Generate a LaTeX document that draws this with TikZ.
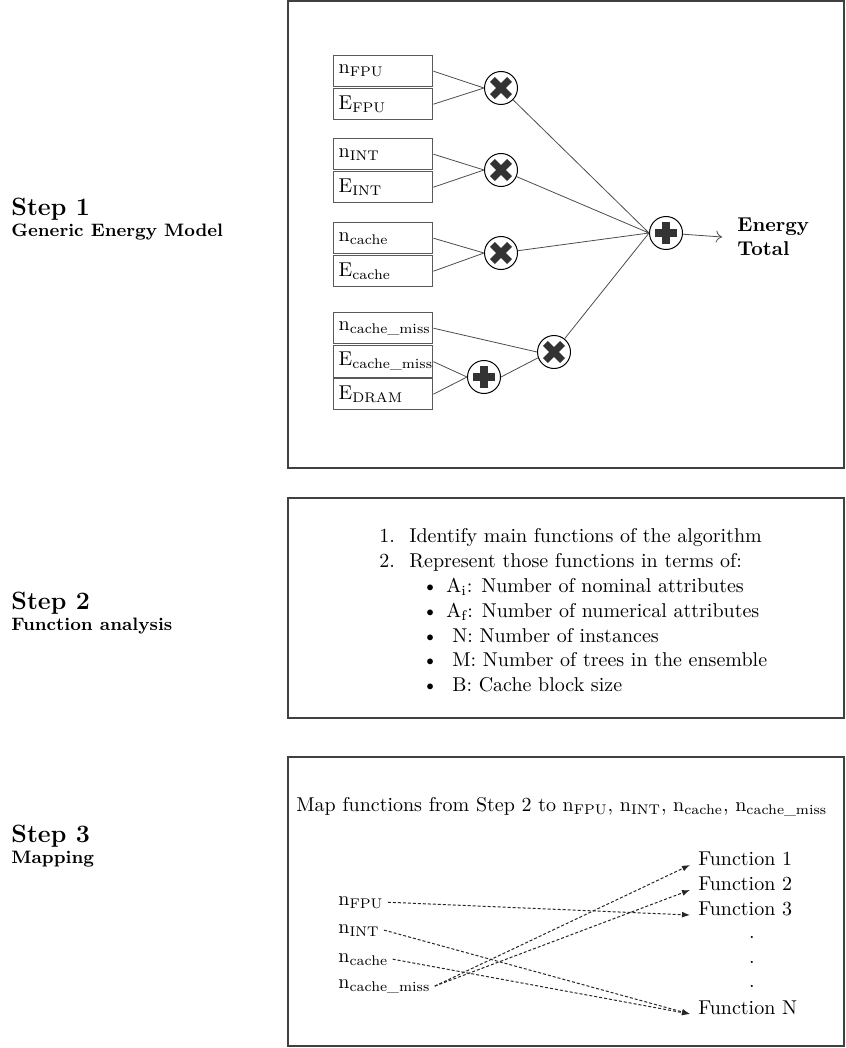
\documentclass[tikz,border=0pt]{standalone}
\usepackage{fontspec}
\usetikzlibrary{arrows.meta}
\newcommand\qsub[2]{#1\textsubscript{#2}}

\begin{document}
\begin{tikzpicture}[x=.5pt,y=-.5pt,
	panel/.style={draw=black!75,line width=1pt},
	inbox/.style={draw=black!65,line width=.7pt,anchor=north west,minimum height=15.5pt,text width=44.5pt,inner xsep=2.5pt,align=left},
	opnode/.style={draw,circle,line width=.5pt,inner sep=0,minimum size=16.5pt},
	mult/.style={opnode,path picture={\draw[black!80,line width=3.4pt]
		([shift={(-4.3pt,-4.3pt)}]path picture bounding box.center)--([shift={(4.3pt,4.3pt)}]path picture bounding box.center)
		([shift={(-4.3pt,4.3pt)}]path picture bounding box.center)--([shift={(4.3pt,-4.3pt)}]path picture bounding box.center);}},
	plus/.style={opnode,path picture={\draw[black!80,line width=4pt]
		([xshift=-5.5pt]path picture bounding box.center)--([xshift=5.5pt]path picture bounding box.center)
		([yshift=-5.5pt]path picture bounding box.center)--([yshift=5.5pt]path picture bounding box.center);}},
	link/.style={draw=black!70,line width=.4pt},
	maplink/.style={black!85,line width=.5pt,dash pattern=on 1.5pt off 1pt,-{Latex[length=4pt,width=3pt]}},
	steplabel/.style={anchor=base west,inner sep=0,font=\fontsize{12.5}{15}\selectfont\bfseries},
	stepsub/.style={anchor=base west,inner sep=0,font=\fontsize{9}{11}\selectfont\bfseries},
	txt/.style={anchor=base west,inner sep=0}]
\useasboundingbox (0,0) rectangle (845,1048);
% step labels
\node[steplabel] (s1) at (11,216) {Step 1};
\node[stepsub] (s1sub) at (11,236) {Generic Energy Model};
\node[steplabel] (s2) at (11,609) {Step 2};
\node[stepsub] (s2sub) at (11,630) {Function analysis};
\node[steplabel] (s3) at (11,842) {Step 3};
\node[stepsub] (s3sub) at (11,863) {Mapping};
% panels
\draw[panel] (288,1) rectangle (844,468);
\draw[panel] (288,498) rectangle (844,718);
\draw[panel] (288,757) rectangle (844,1046);
% step 1: generic energy model
\node[inbox] (nfpu) at (333,55) {\qsub{n}{FPU}};
\node[inbox] (efpu) at (333,88) {\qsub{E}{FPU}};
\node[inbox] (nint) at (333,138) {\qsub{n}{INT}};
\node[inbox] (eint) at (333,171) {\qsub{E}{INT}};
\node[inbox] (ncache) at (333,222) {\qsub{n}{cache}};
\node[inbox] (ecache) at (333,255) {\qsub{E}{cache}};
\node[inbox] (nmiss) at (333,312) {\qsub{n}{cache\_miss}};
\node[inbox] (emiss) at (333,345) {\qsub{E}{cache\_miss}};
\node[inbox] (edram) at (333,378) {\qsub{E}{DRAM}};
\node[mult] (m1) at (501,88) {};
\node[mult] (m2) at (501,170) {};
\node[mult] (m3) at (501,253) {};
\node[plus] (p1) at (484,377) {};
\node[mult] (m4) at (554,352) {};
\node[plus] (total) at (666,233) {};
\node[anchor=west,inner xsep=7.5pt,align=left,font=\bfseries] (etotal) at (722,237) {Energy\\Total};
\draw[link] (nfpu.east)--(m1.west) (efpu.east)--(m1.west);
\draw[link] (nint.east)--(m2.west) (eint.east)--(m2.west);
\draw[link] (ncache.east)--(m3.west) (ecache.east)--(m3.west);
\draw[link] (emiss.east)--(p1.west) (edram.east)--(p1.west);
\draw[link] (nmiss.east)--(m4.west) (p1.east)--(m4.200);
\draw[link] (m1)--(total.west) (m2)--(total.west) (m3)--(total.west) (m4)--(total.west);
\draw[link,-{To[length=3pt,width=6pt]}] (total)--(etotal.west);
% step 2: function analysis
\node[txt] (l1) at (379,542) {1.};
\node[txt] (t1) at (409,542) {Identify main functions of the algorithm};
\node[txt] (l2) at (379,567) {2.};
\node[txt] (t2) at (409,567) {Represent those functions in terms of:};
\node[txt] (b1) at (422,592) {\textbullet};
\node[txt] (t3) at (446,592) {\qsub{A}{i}: Number of nominal attributes};
\node[txt] (b2) at (422,617) {\textbullet};
\node[txt] (t4) at (446,617) {\qsub{A}{f}: Number of numerical attributes};
\node[txt] (b3) at (422,642) {\textbullet};
\node[txt] (t5) at (452,642) {N: Number of instances};
\node[txt] (b4) at (422,666) {\textbullet};
\node[txt] (t6) at (452,666) {M: Number of trees in the ensemble};
\node[txt] (b5) at (422,691) {\textbullet};
\node[txt] (t7) at (452,691) {B: Cache block size};
% step 3: mapping
\node[txt] (maptxt) at (296,811) {Map functions from Step 2 to \qsub{n}{FPU}, \qsub{n}{INT}, \qsub{n}{cache}, \qsub{n}{cache\_miss}};
\node[anchor=base west,inner xsep=2pt] (lfpu) at (334,905) {\qsub{n}{FPU}};
\node[anchor=base west,inner xsep=2pt] (lint) at (334,933) {\qsub{n}{INT}};
\node[anchor=base west,inner xsep=2pt] (lcache) at (334,962) {\qsub{n}{cache}};
\node[anchor=base west,inner xsep=2pt] (lmiss) at (334,988) {\qsub{n}{cache\_miss}};
\node[anchor=base west,inner xsep=4pt] (f1) at (690,865) {Function 1};
\node[anchor=base west,inner xsep=4pt] (f2) at (690,890) {Function 2};
\node[anchor=base west,inner xsep=4pt] (f3) at (690,915) {Function 3};
\node[anchor=base,inner sep=0] (d1) at (752,938) {.};
\node[anchor=base,inner sep=0] (d2) at (752,963) {.};
\node[anchor=base,inner sep=0] (d3) at (752,987) {.};
\node[anchor=base west,inner xsep=4pt] (fn) at (690,1014) {Function N};
\draw[maplink] (lfpu.east)--(f3.base west);
\draw[maplink] (lint.east)--(fn.base west);
\draw[maplink] (lcache.east)--(fn.base west);
\draw[maplink] (lmiss.east)--(f1.base west);
\draw[maplink] (lmiss.east)--(f2.base west);
\end{tikzpicture}
\end{document}
